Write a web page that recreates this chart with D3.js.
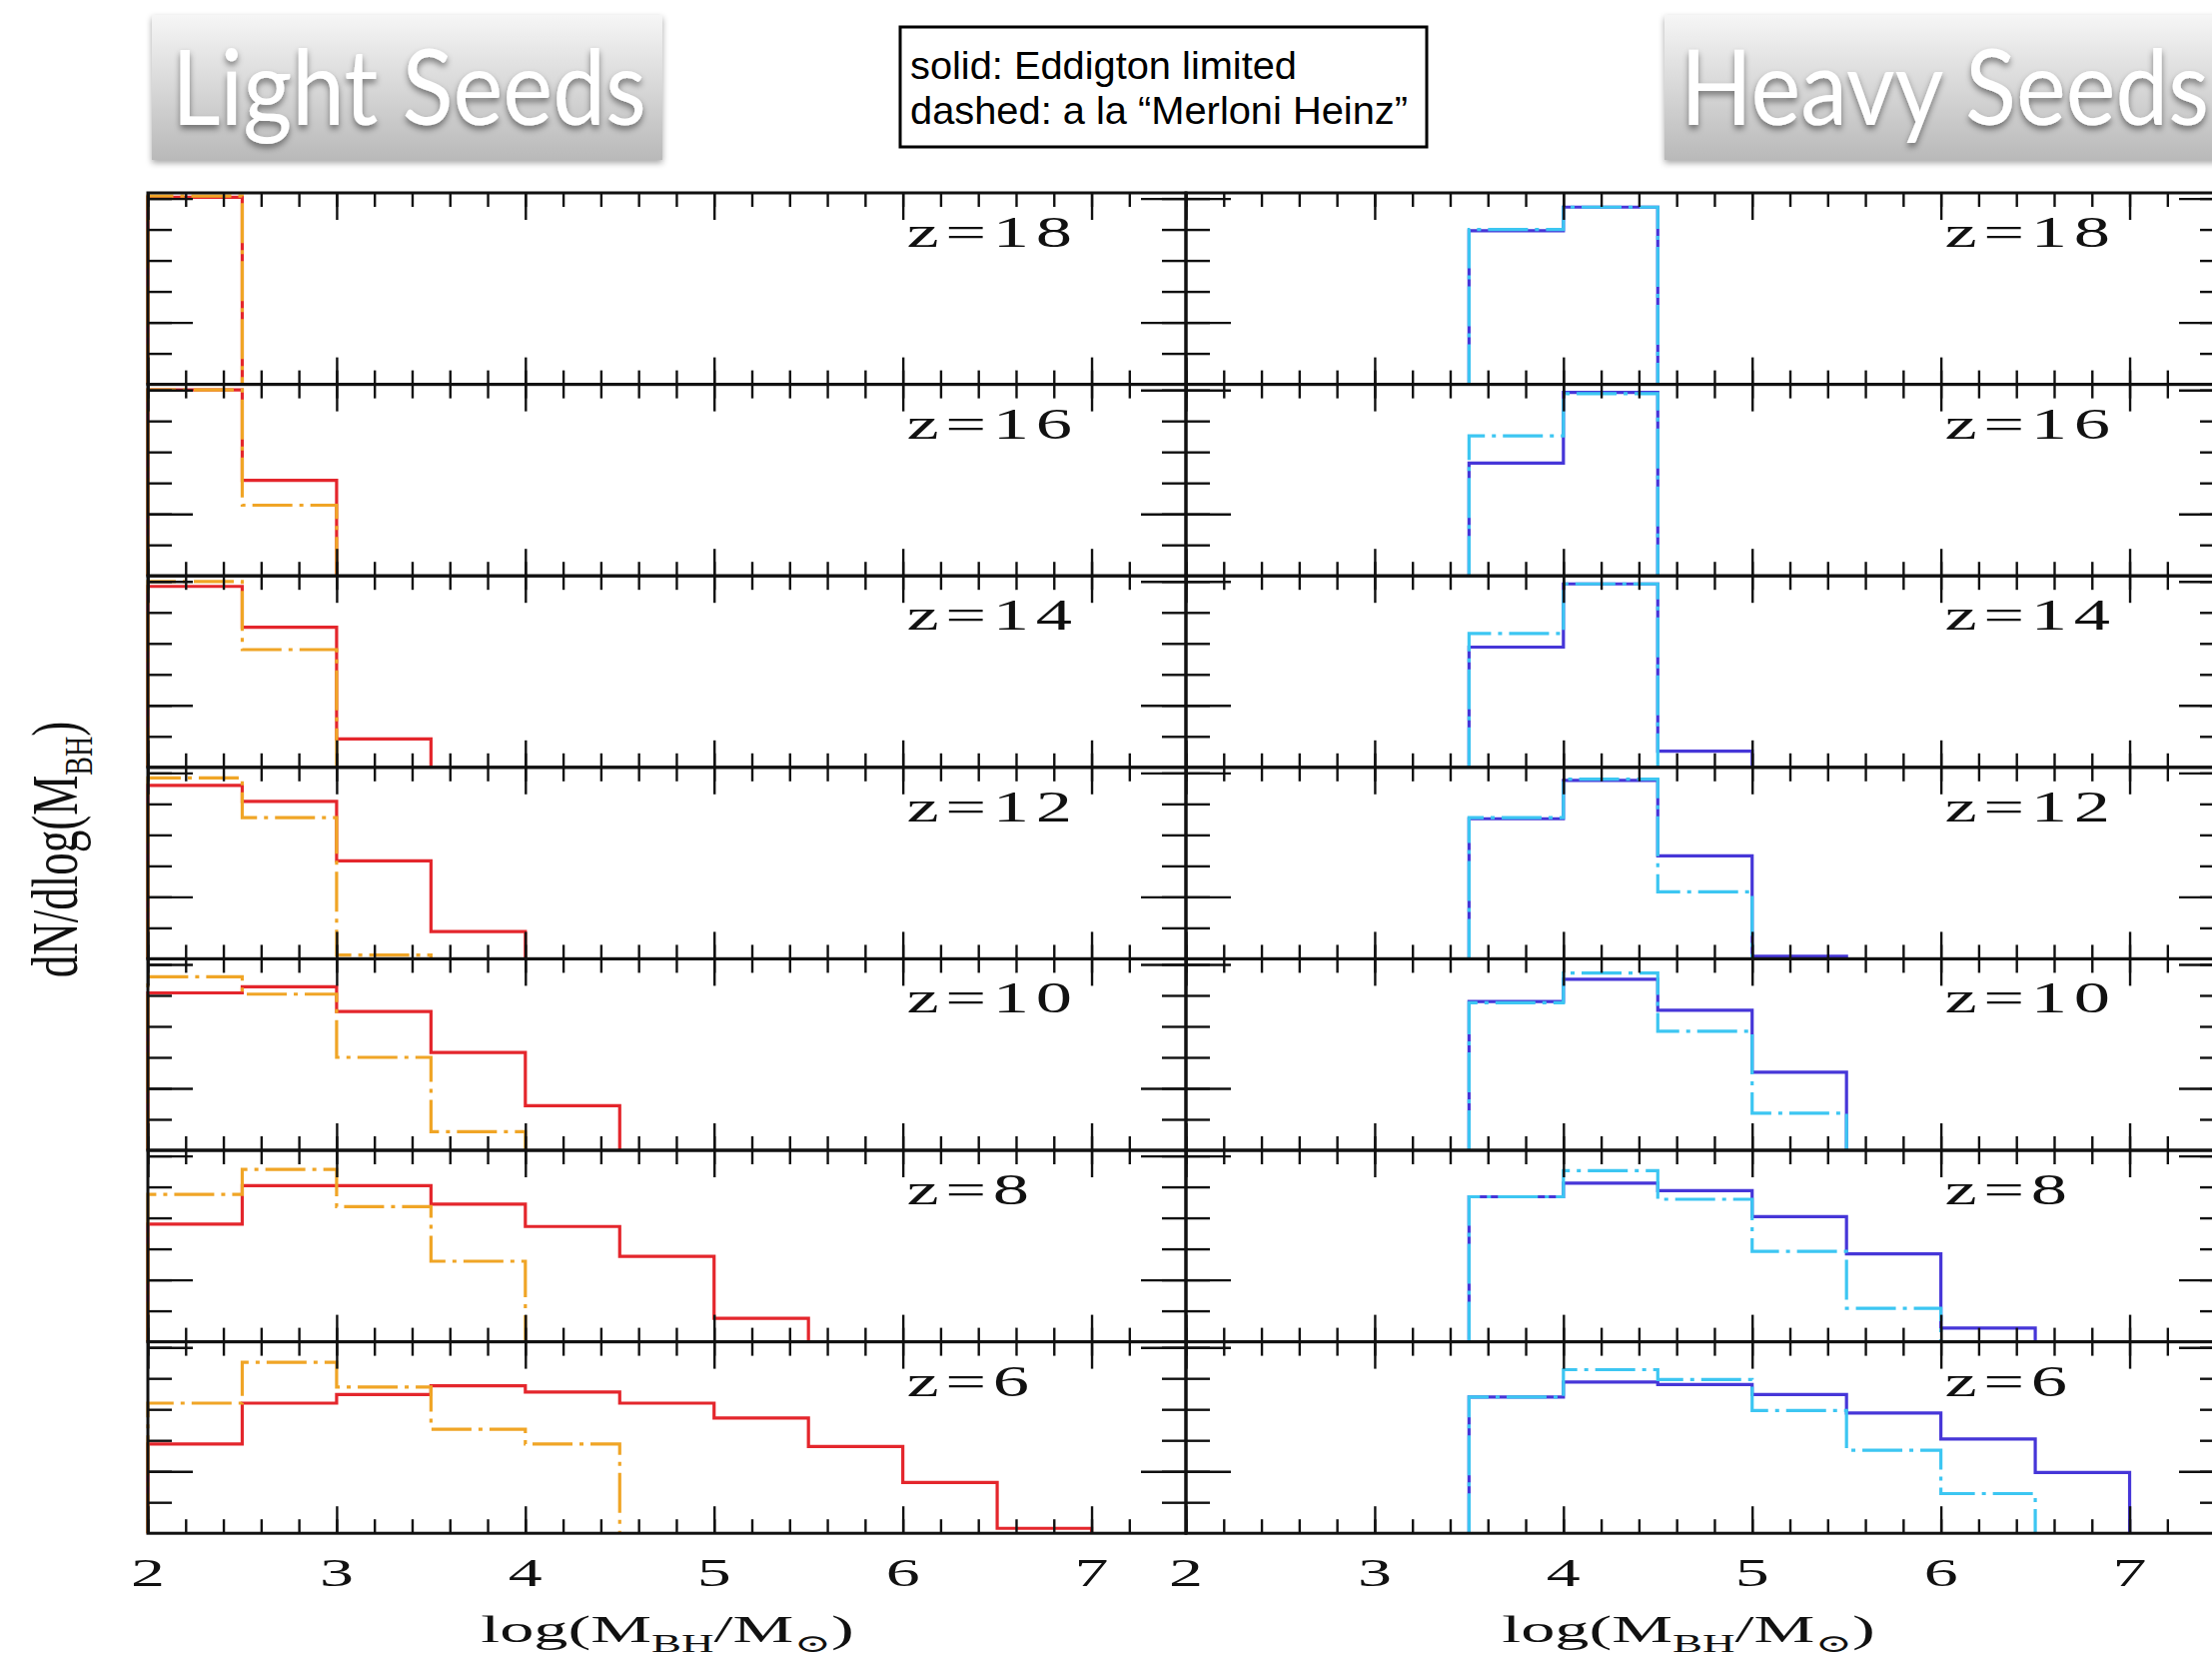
<!DOCTYPE html>
<html>
<head>
<meta charset="UTF-8">
<script src="https://d3js.org/d3.v7.min.js"></script>
<style>
  body { margin: 0; background: #fff; }
  svg { display: block; }
</style>
</head>
<body>
<svg id="chart" width="2214" height="1658"></svg>
<script>
// bins in log(M_BH/Msun), 0.5 dex wide, left edges
var binEdges = [2, 2.5, 3, 3.5, 4, 4.5, 5, 5.5, 6, 6.5, 7];
var redshifts = [18, 16, 14, 12, 10, 8, 6];
var xTickLabels = [2, 3, 4, 5, 6, 7];

// light seeds, Eddington limited (solid)
var lightSolid = [
  [1.51],
  [1.50, 0.77],
  [1.46, 1.13, 0.23],
  [1.40, 1.27, 0.79, 0.22],
  [1.27, 1.32, 1.12, 0.79, 0.36],
  [0.95, 1.26, 1.26, 1.11, 0.93, 0.69, 0.19],
  [0.72, 1.05, 1.12, 1.19, 1.14, 1.05, 0.93, 0.70, 0.41, 0.04]
];
// light seeds, Merloni-Heinz (dashed)
var lightDashed = [
  [1.52],
  [1.50, 0.57],
  [1.50, 0.95],
  [1.46, 1.14, 0.03],
  [1.40, 1.26, 0.75, 0.15],
  [1.19, 1.39, 1.09, 0.65],
  [1.05, 1.38, 1.18, 0.84, 0.72]
];
// heavy seeds, Eddington limited (solid)
var heavySolid = [
  [0, 0, 0, 1.24, 1.43],
  [0, 0, 0, 0.91, 1.48],
  [0, 0, 0, 0.97, 1.48, 0.13],
  [0, 0, 0, 1.13, 1.44, 0.83, 0.02],
  [0, 0, 0, 1.20, 1.38, 1.13, 0.63],
  [0, 0, 0, 1.17, 1.28, 1.22, 1.01, 0.71, 0.11],
  [0, 0, 0, 1.10, 1.22, 1.20, 1.12, 0.97, 0.76, 0.49]
];
// heavy seeds, Merloni-Heinz (dashed)
var heavyDashed = [
  [0, 0, 0, 1.25, 1.43],
  [0, 0, 0, 1.13, 1.47],
  [0, 0, 0, 1.08, 1.48],
  [0, 0, 0, 1.14, 1.45, 0.54],
  [0, 0, 0, 1.19, 1.43, 0.96, 0.30],
  [0, 0, 0, 1.17, 1.38, 1.15, 0.73, 0.27],
  [0, 0, 0, 1.10, 1.32, 1.24, 0.99, 0.67, 0.32]
];

var binWidth = 0.5;
var xDomain = [2, 7.5], yDomain = [0, 1.545];
var yTicks = [0.25, 0.5, 0.75, 1, 1.25, 1.5], yMajor = [0.5, 1.5];
var xMinor = d3.range(0, 27).map(function(i) { return +(2 + i * 0.2).toFixed(1); });
var xMajor = [2, 3, 4, 5, 6, 7];

var svg = d3.select("#chart");
svg.append("rect").attr("width", 2214).attr("height", 1658).attr("fill", "#fff");

var panelW = 1039, gridTop = 193, rowH = 191.6;
var columns = [
  { x0: 148, titleX: 668, solid: lightSolid, dashed: lightDashed, cs: "#e4262c", cd: "#f0a526" },
  { x0: 1187, titleX: 1690, solid: heavySolid, dashed: heavyDashed, cs: "#4636d8", cd: "#3cc6f2" }
];

var serif = "'Liberation Serif', 'DejaVu Serif', serif";

function stretchText(g, x, y, str, size, sx, anchor, ls) {
  return g.append("text")
    .attr("transform", "translate(" + x + "," + y + ") scale(" + sx + ",1)")
    .attr("text-anchor", anchor || "start")
    .attr("font-family", serif)
    .attr("font-size", size)
    .attr("letter-spacing", ls || 0)
    .attr("fill", "#111")
    .text(str);
}

function stepPoints(vals) {
  var f = vals.findIndex(function(v) { return v > 0; });
  var l = vals.length - 1;
  while (l >= 0 && !(vals[l] > 0)) l--;
  var pts = [[binEdges[f], 0]];
  for (var i = f; i <= l; i++) {
    pts.push([binEdges[i], vals[i]]);
    pts.push([binEdges[i] + binWidth, vals[i]]);
  }
  pts.push([binEdges[l] + binWidth, 0]);
  return pts;
}

columns.forEach(function(col) {
  var x = d3.scaleLinear().domain(xDomain).range([col.x0, col.x0 + panelW]);
  redshifts.forEach(function(z, r) {
    var y0 = gridTop + r * rowH;
    var y = d3.scaleLinear().domain(yDomain).range([y0 + rowH, y0]);
    var g = svg.append("g");
    var line = d3.line().x(function(d) { return x(d[0]); }).y(function(d) { return y(d[1]); });

    g.append("path").attr("d", line(stepPoints(col.solid[r])))
      .attr("fill", "none").attr("stroke", col.cs).attr("stroke-width", 3.2);
    g.append("path").attr("d", line(stepPoints(col.dashed[r])))
      .attr("fill", "none").attr("stroke", col.cd).attr("stroke-width", 3.2)
      .attr("stroke-dasharray", "40,7,4,7");

    // inward ticks on all four sides
    var axes = [
      [d3.axisBottom(x).tickValues(xMinor).tickSize(-14), y0 + rowH, "x"],
      [d3.axisBottom(x).tickValues(xMajor).tickSize(-27), y0 + rowH, "x"],
      [d3.axisTop(x).tickValues(xMinor).tickSize(-14), y0, "x"],
      [d3.axisTop(x).tickValues(xMajor).tickSize(-27), y0, "x"],
      [d3.axisLeft(y).tickValues(yTicks).tickSize(-24), col.x0, "y"],
      [d3.axisLeft(y).tickValues(yMajor).tickSize(-45), col.x0, "y"],
      [d3.axisRight(y).tickValues(yTicks).tickSize(-24), col.x0 + panelW, "y"],
      [d3.axisRight(y).tickValues(yMajor).tickSize(-45), col.x0 + panelW, "y"]
    ];
    axes.forEach(function(a) {
      var ag = g.append("g")
        .attr("transform", a[2] === "x" ? "translate(0," + a[1] + ")" : "translate(" + a[1] + ",0)")
        .call(a[0].tickFormat(""));
      ag.select(".domain").remove();
      ag.selectAll("line").attr("stroke", "#111").attr("stroke-width", 2.4);
    });

    g.append("rect").attr("x", col.x0).attr("y", y0).attr("width", panelW).attr("height", rowH)
      .attr("fill", "none").attr("stroke", "#111").attr("stroke-width", 3);

    stretchText(g, x(6.02), y0 + 54, "z=" + z, 44, 1.65, "start", 4);
  });

  xTickLabels.forEach(function(t) {
    stretchText(svg, x(t), 1587, String(t), 40, 1.7, "middle");
  });

  var title = svg.append("text")
    .attr("transform", "translate(" + col.titleX + ",1643) scale(1.8,1)")
    .attr("text-anchor", "middle").attr("font-family", serif).attr("font-size", 38).attr("fill", "#111");
  title.append("tspan").text("log(M");
  title.append("tspan").attr("dy", 10).attr("font-size", 25).text("BH");
  title.append("tspan").attr("dy", -10).text("/M");
  title.append("tspan").attr("dy", 10).attr("font-size", 25).text("\u2299");
  title.append("tspan").attr("dy", -10).text(")");
});

// y axis label
var ylab = svg.append("text")
  .attr("transform", "translate(77,850) scale(1.45,1) rotate(-90)")
  .attr("text-anchor", "middle").attr("font-family", serif).attr("font-size", 45).attr("fill", "#111");
ylab.append("tspan").text("dN/dlog(M");
ylab.append("tspan").attr("dy", 10).attr("font-size", 28).text("BH");
ylab.append("tspan").attr("dy", -10).text(")");

// header boxes
var defs = svg.append("defs");
var grad = defs.append("linearGradient").attr("id", "boxGrad").attr("x1", 0).attr("y1", 0).attr("x2", 0).attr("y2", 1);
grad.append("stop").attr("offset", "0%").attr("stop-color", "#f6f6f6");
grad.append("stop").attr("offset", "100%").attr("stop-color", "#b9b9b9");
var shadow = defs.append("filter").attr("id", "boxShadow").attr("x", "-10%").attr("y", "-10%").attr("width", "120%").attr("height", "130%");
shadow.append("feDropShadow").attr("dx", 0).attr("dy", 3).attr("stdDeviation", 3).attr("flood-color", "#000").attr("flood-opacity", 0.35);
var textShadow = defs.append("filter").attr("id", "textShadow").attr("x", "-10%").attr("y", "-20%").attr("width", "120%").attr("height", "150%");
textShadow.append("feDropShadow").attr("dx", 0).attr("dy", 4).attr("stdDeviation", 3).attr("flood-color", "#000").attr("flood-opacity", 0.45);

var headers = [
  { label: "Light Seeds", x: 152, w: 511, tx: 172, tl: 475 },
  { label: "Heavy Seeds", x: 1666, w: 600, tx: 1682, tl: 529 }
];
headers.forEach(function(h) {
  svg.append("rect").attr("x", h.x).attr("y", 15).attr("width", h.w).attr("height", 145)
    .attr("fill", "url(#boxGrad)").attr("filter", "url(#boxShadow)");
  svg.append("text").attr("x", h.tx).attr("y", 125)
    .attr("font-family", "Lato, 'Open Sans', sans-serif").attr("font-size", 105)
    .attr("textLength", h.tl).attr("lengthAdjust", "spacingAndGlyphs")
    .attr("fill", "#fff").attr("filter", "url(#textShadow)").text(h.label);
});

// legend note
svg.append("rect").attr("x", 901).attr("y", 27).attr("width", 527).attr("height", 120)
  .attr("fill", "#fff").attr("stroke", "#000").attr("stroke-width", 3);
var noteLines = [["solid: Eddigton limited", 79, 387], ["dashed: a la \u201CMerloni Heinz\u201D", 124, 498]];
noteLines.forEach(function(n) {
  svg.append("text").attr("x", 911).attr("y", n[1])
    .attr("font-family", "'Liberation Sans', Arial, sans-serif").attr("font-size", 39)
    .attr("textLength", n[2]).attr("lengthAdjust", "spacingAndGlyphs")
    .attr("fill", "#000").text(n[0]);
});
</script>
</body>
</html>
